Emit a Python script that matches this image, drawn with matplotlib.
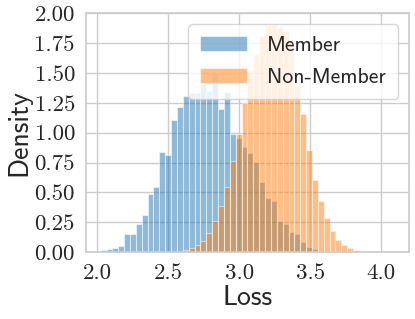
import numpy as np
import matplotlib
matplotlib.use("Agg")
import matplotlib.pyplot as plt
import seaborn as sns

# ---- data (density per bin, 50 common bins) ----
bin_start = 2.023
bin_end = 4.093
n_bins = 50

member = [0.017, 0.025, 0.036, 0.053, 0.148, 0.154, 0.232, 0.31, 0.49, 0.545,
          0.84, 0.81, 1.105, 1.217, 1.306, 1.33, 1.334, 1.41, 1.35, 1.50,
          1.20, 1.34, 0.99, 0.957, 0.877, 0.832, 0.754, 0.589, 0.455, 0.427,
          0.262, 0.237, 0.170, 0.148, 0.081, 0.039, 0.028, 0.011, 0.007, 0.004,
          0.002, 0.001, 0.0, 0.0, 0.0, 0.0, 0.0, 0.0, 0.0, 0.0]
non_member = [0.0, 0.0, 0.0, 0.0, 0.0, 0.0, 0.0, 0.0, 0.0, 0.0,
              0.0, 0.0, 0.0, 0.008, 0.017, 0.034, 0.056, 0.092, 0.162, 0.262,
              0.388, 0.547, 0.765, 0.99, 1.25, 1.51, 1.66, 1.81, 1.90, 1.90,
              1.887, 1.85, 1.78, 1.39, 1.16, 0.854, 0.603, 0.427, 0.282, 0.176,
              0.10, 0.059, 0.036, 0.017, 0.008, 0.003, 0.002, 0.001, 0.001, 0.001]
labels = ["Member", "Non-Member"]
x_label = "Loss"
y_label = "Density"
x_ticks = [2.0, 2.5, 3.0, 3.5, 4.0]
y_ticks = [0.0, 0.25, 0.5, 0.75, 1.0, 1.25, 1.5, 1.75, 2.0]

sns.set_theme(style="whitegrid")
plt.rcParams["axes.formatter.use_mathtext"] = True

edges = np.linspace(bin_start, bin_end, n_bins + 1)
lefts = edges[:-1]

fig = plt.figure(figsize=(4.15, 3.19), dpi=100)
ax = fig.add_axes([0.2072, 0.21, 0.778, 0.748])

colors = ["#1f77b4", "#ff7f0e"]
for vals, lab, c in zip([member, non_member], labels, colors):
    ax.hist(lefts, bins=edges, weights=vals, color=c, alpha=0.5,
            edgecolor="white", linewidth=0.8, label=lab)

ax.set_ylim(0, 2.0)
ax.set_xticks(x_ticks)
ax.set_yticks(y_ticks)
ax.set_xticklabels([f"{v:.1f}" for v in x_ticks], family="cmr10", fontsize=16.5, color=".15")
ax.set_yticklabels([f"{v:.2f}" for v in y_ticks], family="cmr10", fontsize=16.5, color=".15")
ax.tick_params(axis="both", pad=2)

ax.set_xlabel(x_label, family="cmss10", fontsize=20, color=".15", labelpad=2)
ax.set_ylabel(y_label, family="cmss10", fontsize=20, color=".15", labelpad=2)

leg = ax.legend(loc="upper right", prop={"family": "cmss10", "size": 15.6},
                handlelength=2.15, handletextpad=0.95, labelspacing=0.6,
                borderpad=0.55, borderaxespad=0.5)
for t in leg.get_texts():
    t.set_color(".15")

fig.savefig("out.png", dpi=100)
